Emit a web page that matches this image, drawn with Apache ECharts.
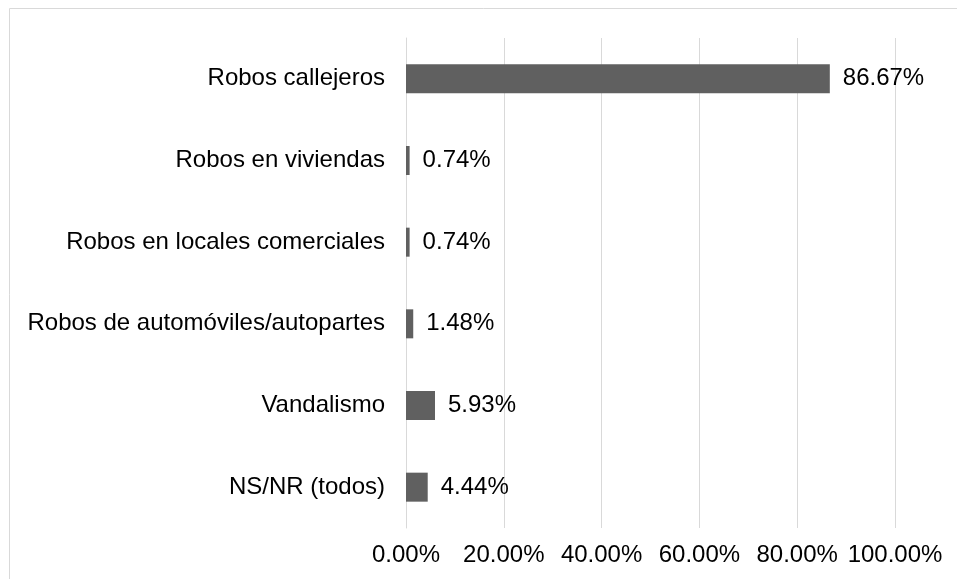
<!DOCTYPE html>
<html>
<head>
<meta charset="utf-8">
<script src="https://cdn.jsdelivr.net/npm/echarts@6/dist/echarts.min.js"></script>
<style>
html,body{margin:0;padding:0;background:#fff;}
#container{width:957px;height:579px;}
</style>
</head>
<body>
<div id="container"></div>
<script>
// categorias y porcentajes (de arriba hacia abajo)
var categories = ['Robos callejeros', 'Robos en viviendas', 'Robos en locales comerciales', 'Robos de automóviles/autopartes', 'Vandalismo', 'NS/NR (todos)'];
var values = [86.67, 0.74, 0.74, 1.48, 5.93, 4.44];
var axisMax = 100;
var axisStep = 20;

var font = '"Liberation Sans", Arial, sans-serif';
var myChart = echarts.init(document.getElementById('container'), null, {renderer: 'canvas'});

var option = {
    animation: false,
    textStyle: {fontFamily: font},
    graphic: [{
        type: 'rect',
        shape: {x: 9.5, y: 8.5, width: 1200, height: 1200},
        style: {fill: 'none', stroke: '#d9d9d9', lineWidth: 1},
        silent: true
    }],
    grid: {left: 406, right: 62, top: 38, bottom: 51},
    xAxis: {
        type: 'value',
        min: 0,
        max: axisMax,
        interval: axisStep,
        axisLine: {show: false},
        axisTick: {show: false},
        splitLine: {lineStyle: {color: '#d9d9d9', width: 1}},
        axisLabel: {
            color: '#000',
            fontSize: 24,
            fontFamily: font,
            margin: 15,
            formatter: function (v) { return v.toFixed(2) + '%'; }
        }
    },
    yAxis: {
        type: 'category',
        data: categories,
        inverse: true,
        axisLine: {show: true, lineStyle: {color: '#d9d9d9'}},
        axisTick: {show: false},
        axisLabel: {color: '#000', fontSize: 24, fontFamily: font, margin: 21}
    },
    series: [{
        type: 'bar',
        data: values,
        barWidth: 29,
        itemStyle: {color: '#606060'},
        label: {
            show: true,
            position: 'right',
            distance: 13,
            color: '#000',
            fontSize: 24,
            fontFamily: font,
            formatter: function (p) { return p.value.toFixed(2) + '%'; }
        }
    }]
};

myChart.setOption(option);
window.addEventListener('resize', myChart.resize);
</script>
</body>
</html>
